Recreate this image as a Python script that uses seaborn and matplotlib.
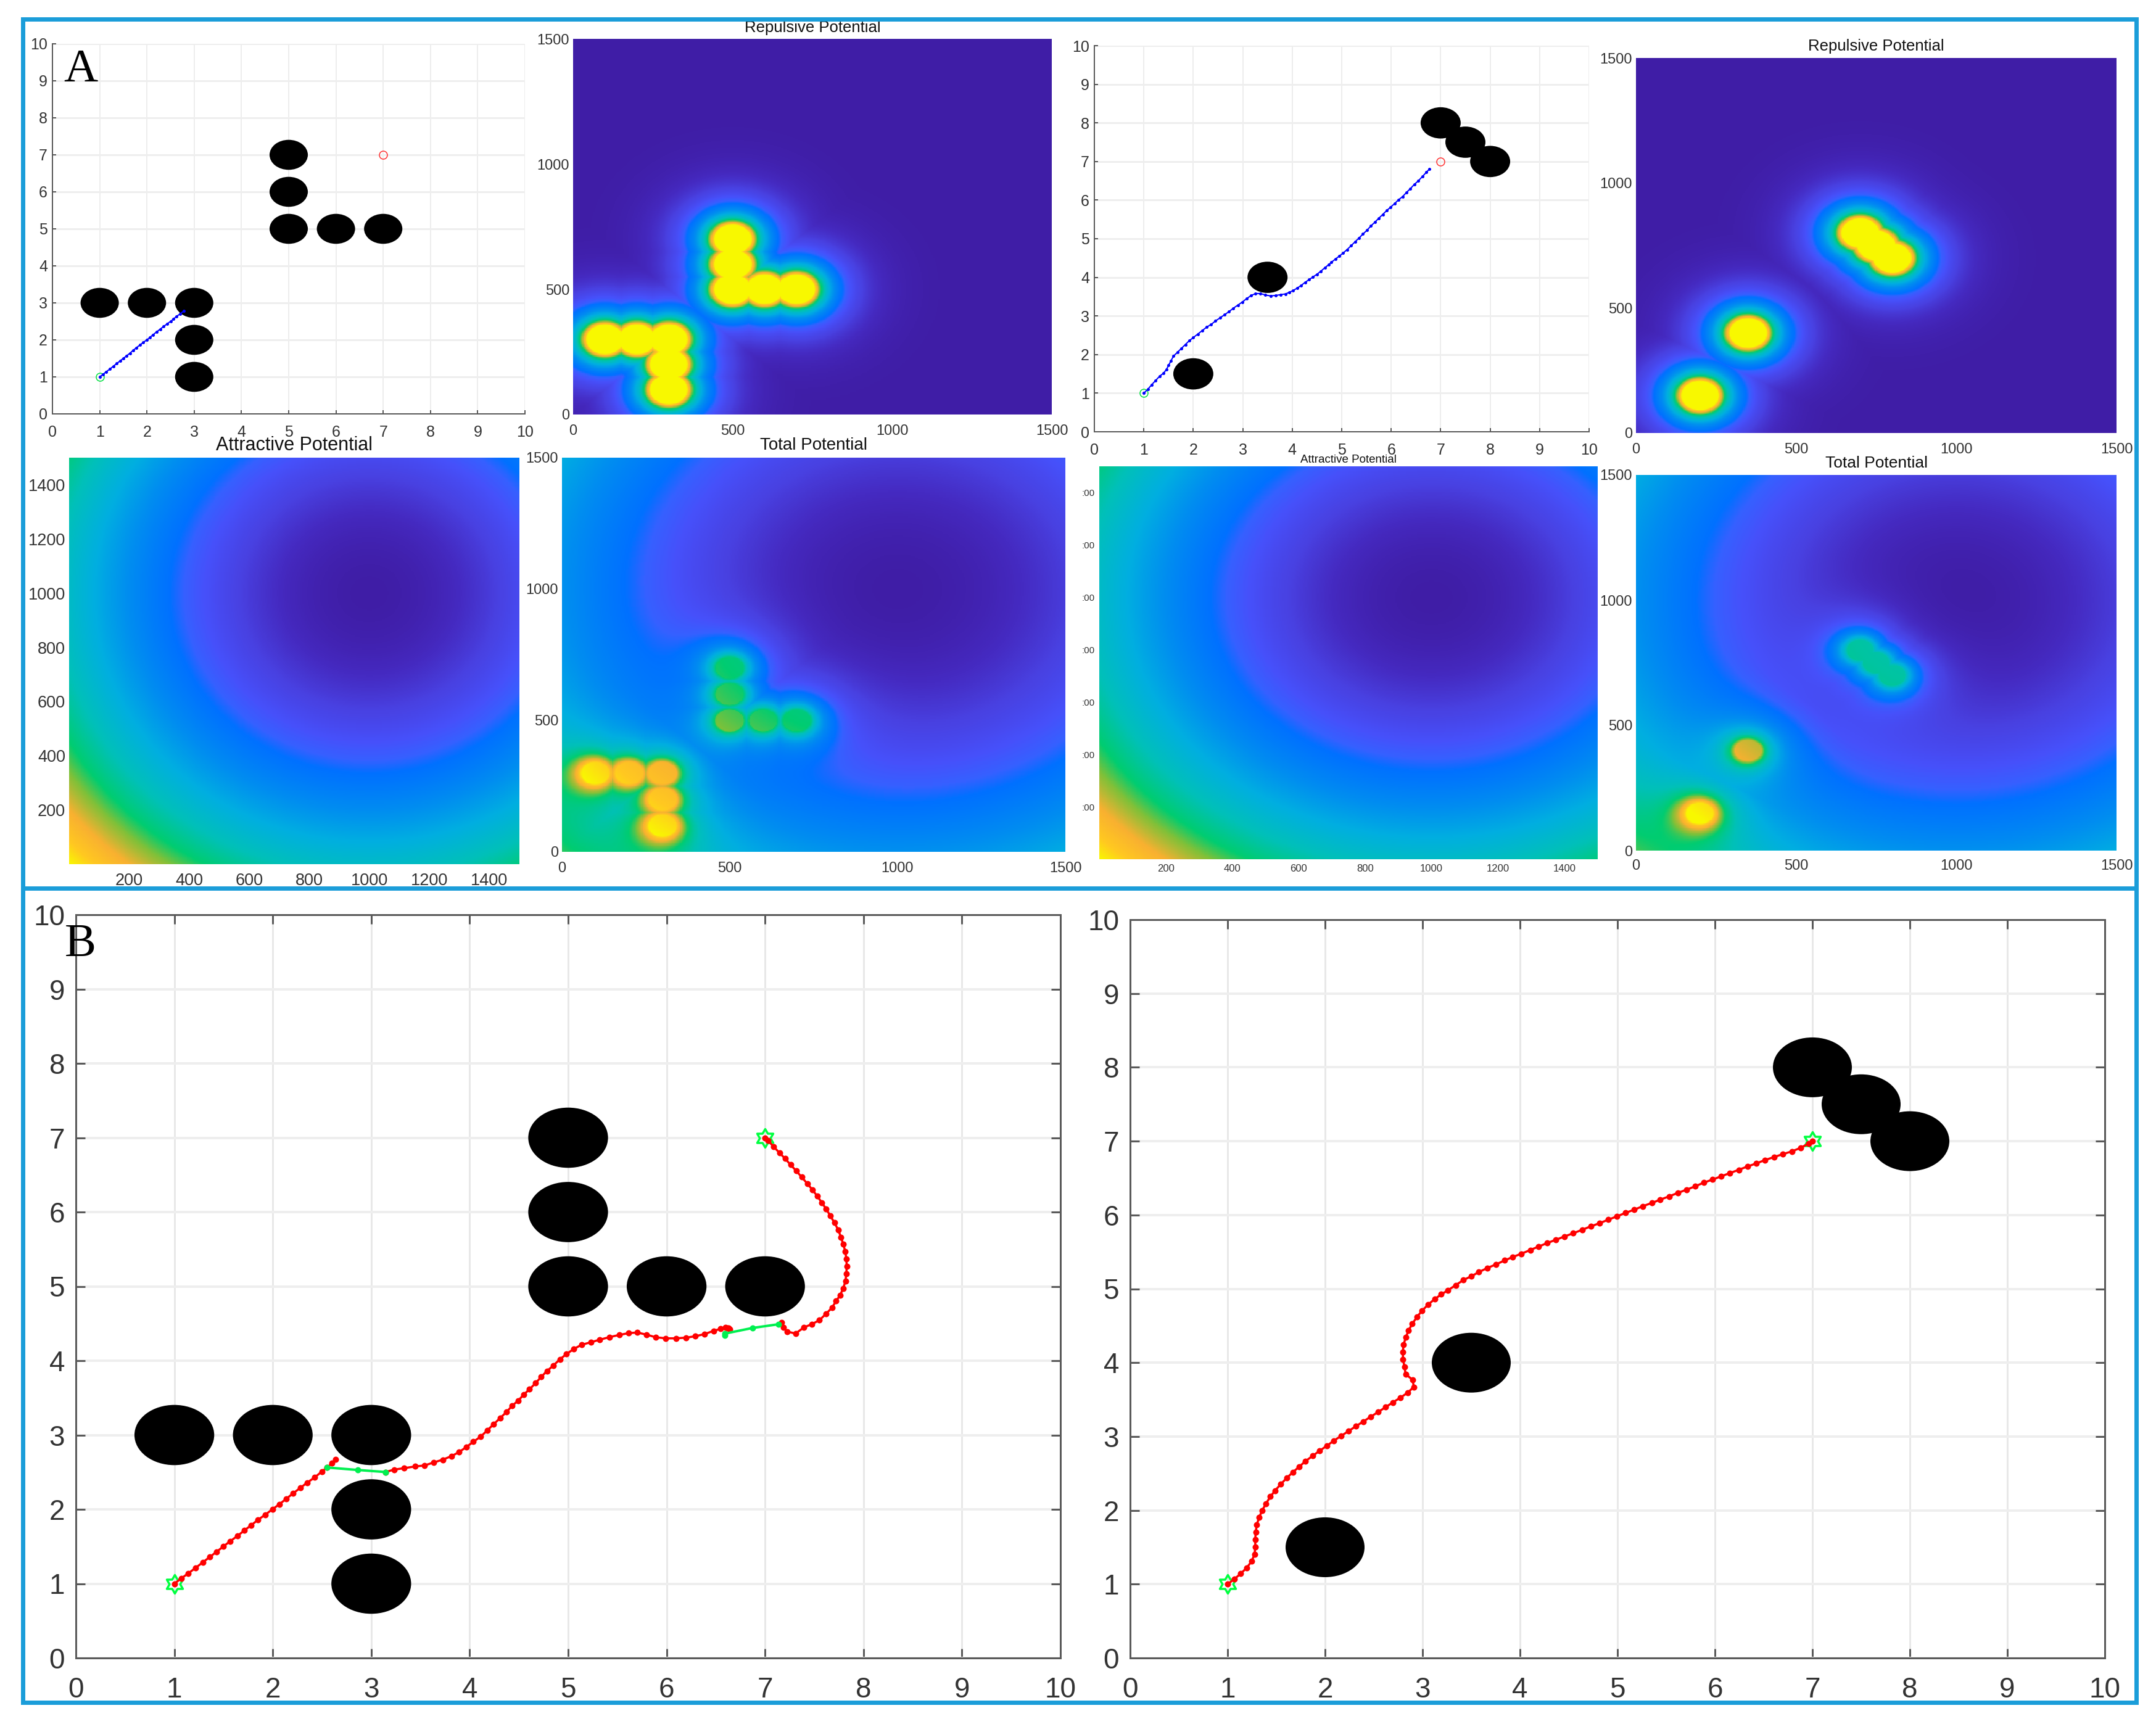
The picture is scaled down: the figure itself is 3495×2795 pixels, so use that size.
import numpy as np
import pandas as pd
import matplotlib
matplotlib.use("Agg")
import matplotlib.pyplot as plt
import seaborn as sns
from matplotlib.colors import LinearSegmentedColormap
from matplotlib.lines import Line2D
from matplotlib.patches import Ellipse
from matplotlib.path import Path

# ---------- data ----------
obst_a_x = [1, 2, 3, 3, 3, 5, 5, 5, 6, 7]
obst_a_y = [3, 3, 3, 2, 1, 5, 6, 7, 5, 5]
obst_b_x = [2, 3.5, 7, 7.5, 8]
obst_b_y = [1.5, 4, 8, 7.5, 7]
obst_diameter = 0.81
start_x, start_y = 1, 1
goal_x, goal_y = 7, 7
field_goal = (1000, 1000)
field_scale = 100

grid_ticks = list(range(0, 11))
field_ticks = [0, 500, 1000, 1500]
attr_ticks = [200, 400, 600, 800, 1000, 1200, 1400]

# short runs in panel A (blue)
a1_x = [1.0, 1.07, 1.14, 1.215, 1.29, 1.36, 1.43, 1.50, 1.57, 1.64, 1.71, 1.78, 1.85, 1.92, 2.0, 2.065, 2.13, 2.20, 2.28, 2.35, 2.425, 2.50, 2.56, 2.62, 2.70, 2.78]
a1_y = [1.0, 1.07, 1.14, 1.21, 1.29, 1.36, 1.43, 1.50, 1.57, 1.64, 1.72, 1.79, 1.86, 1.93, 2.0, 2.07, 2.14, 2.21, 2.29, 2.36, 2.43, 2.50, 2.56, 2.63, 2.70, 2.78]
a2_x = [1, 1.08, 1.16, 1.24, 1.32, 1.40, 1.46, 1.50, 1.55, 1.60, 1.68, 1.76, 1.84, 1.92, 2.0, 2.09, 2.18, 2.27, 2.36, 2.45, 2.54, 2.63, 2.72, 2.81, 2.9, 2.99, 3.08, 3.17, 3.26, 3.36, 3.46, 3.56, 3.66, 3.76, 3.86, 3.94, 4.02, 4.1, 4.18, 4.26, 4.34, 4.42, 4.5, 4.58, 4.66, 4.74, 4.79, 4.87, 4.95, 5.03, 5.11, 5.19, 5.27, 5.35, 5.43, 5.51, 5.59, 5.67, 5.75, 5.83, 5.91, 5.99, 6.07, 6.15, 6.23, 6.31, 6.39, 6.47, 6.55, 6.63, 6.71, 6.77]
a2_y = [1, 1.1, 1.22, 1.33, 1.44, 1.52, 1.62, 1.72, 1.84, 1.96, 2.06, 2.16, 2.26, 2.36, 2.44, 2.53, 2.62, 2.71, 2.78, 2.87, 2.95, 3.03, 3.11, 3.2, 3.28, 3.36, 3.45, 3.53, 3.58, 3.58, 3.54, 3.52, 3.53, 3.55, 3.57, 3.61, 3.66, 3.72, 3.79, 3.87, 3.94, 4.01, 4.08, 4.16, 4.25, 4.33, 4.39, 4.47, 4.55, 4.63, 4.72, 4.82, 4.92, 5.02, 5.12, 5.22, 5.33, 5.43, 5.53, 5.63, 5.73, 5.82, 5.91, 6.01, 6.09, 6.2, 6.3, 6.41, 6.5, 6.61, 6.72, 6.8]

# panel B, left: red runs and green jumps
bl_red1_x = [1, 1.071, 1.142, 1.215, 1.289, 1.358, 1.429, 1.498, 1.567, 1.64, 1.711, 1.78, 1.849, 1.923, 1.996, 2.065, 2.134, 2.203, 2.278, 2.349, 2.425, 2.497, 2.552, 2.6, 2.64]
bl_red1_y = [1, 1.072, 1.139, 1.212, 1.287, 1.357, 1.429, 1.501, 1.571, 1.641, 1.716, 1.786, 1.858, 1.928, 2.0, 2.067, 2.139, 2.212, 2.287, 2.359, 2.429, 2.507, 2.563, 2.62, 2.674]
bl_green1_x = [2.552, 2.861, 3.145]
bl_green1_y = [2.563, 2.53, 2.502]
bl_red2_x = [3.145, 3.233, 3.334, 3.444, 3.54, 3.637, 3.725, 3.813, 3.892, 3.967, 4.037, 4.112, 4.178, 4.243, 4.309, 4.375, 4.432, 4.494, 4.551, 4.608, 4.67, 4.727, 4.784, 4.85, 4.916, 4.982, 5.056, 5.135, 5.232, 5.32, 5.421, 5.518, 5.614, 5.702, 5.795, 5.891, 5.992, 6.097, 6.198, 6.291, 6.383, 6.476, 6.55, 6.616, 6.64, 6.60, 6.63]
bl_red2_y = [2.502, 2.535, 2.554, 2.577, 2.59, 2.632, 2.668, 2.715, 2.77, 2.84, 2.909, 2.979, 3.062, 3.145, 3.228, 3.311, 3.395, 3.464, 3.547, 3.616, 3.7, 3.783, 3.86, 3.935, 4.019, 4.088, 4.157, 4.213, 4.249, 4.282, 4.318, 4.346, 4.371, 4.379, 4.351, 4.315, 4.301, 4.301, 4.31, 4.329, 4.357, 4.401, 4.429, 4.44, 4.42, 4.45, 4.44]
bl_green2_x = [6.594, 6.594, 6.871, 7.134]
bl_green2_y = [4.337, 4.365, 4.44, 4.49]
bl_red3_x = [7.165, 7.187, 7.222, 7.31, 7.394, 7.473, 7.552, 7.618, 7.679, 7.721, 7.761, 7.794, 7.817, 7.825, 7.83, 7.825, 7.815, 7.794, 7.771, 7.742, 7.705, 7.663, 7.622, 7.576, 7.53, 7.48, 7.428, 7.372, 7.318, 7.26, 7.204, 7.146, 7.085, 7.03, 7.0]
bl_red3_y = [4.518, 4.448, 4.393, 4.365, 4.448, 4.49, 4.545, 4.629, 4.712, 4.801, 4.878, 4.975, 5.072, 5.174, 5.271, 5.373, 5.47, 5.566, 5.663, 5.762, 5.856, 5.948, 6.039, 6.127, 6.215, 6.301, 6.384, 6.47, 6.552, 6.635, 6.718, 6.798, 6.881, 6.964, 7.0]

# panel B, right: red run
br_x = [1, 1.07, 1.134, 1.197, 1.246, 1.277, 1.284, 1.284, 1.288, 1.300, 1.324, 1.355, 1.393, 1.439, 1.487, 1.544, 1.605, 1.670, 1.733, 1.800, 1.872, 1.945, 2.017, 2.090, 2.164, 2.242, 2.315, 2.391, 2.468, 2.546, 2.622, 2.695, 2.773, 2.847, 2.910, 2.899, 2.826, 2.815, 2.800, 2.798, 2.805, 2.828, 2.857, 2.895, 2.943, 2.994, 3.057, 3.124, 3.193, 3.26, 3.34, 3.42, 3.50, 3.578, 3.666, 3.756, 3.843, 3.927, 4.015, 4.105, 4.192, 4.279, 4.369, 4.456, 4.547, 4.640, 4.730, 4.817, 4.904, 4.994, 5.081, 5.172, 5.259, 5.352, 5.439, 5.529, 5.619, 5.709, 5.797, 5.884, 5.974, 6.064, 6.154, 6.244, 6.334, 6.427, 6.515, 6.605, 6.698, 6.788, 6.878, 6.96, 7.0]
br_y = [1, 1.07, 1.142, 1.223, 1.309, 1.407, 1.505, 1.608, 1.705, 1.808, 1.906, 1.998, 2.090, 2.185, 2.268, 2.352, 2.436, 2.517, 2.589, 2.667, 2.737, 2.807, 2.873, 2.943, 3.007, 3.074, 3.138, 3.202, 3.267, 3.333, 3.398, 3.462, 3.526, 3.593, 3.671, 3.768, 3.844, 3.944, 4.044, 4.145, 4.242, 4.343, 4.437, 4.527, 4.619, 4.702, 4.786, 4.861, 4.925, 4.98, 5.05, 5.12, 5.17, 5.227, 5.283, 5.332, 5.385, 5.432, 5.476, 5.526, 5.573, 5.620, 5.665, 5.709, 5.753, 5.801, 5.848, 5.889, 5.936, 5.981, 6.028, 6.072, 6.119, 6.163, 6.208, 6.252, 6.299, 6.343, 6.388, 6.438, 6.479, 6.524, 6.568, 6.612, 6.657, 6.70, 6.745, 6.784, 6.825, 6.861, 6.909, 6.967, 7.0]

# ---------- styling ----------
W, H = 3495, 2795
PX = 0.72  # points per pixel at dpi=100

sns.set_theme(style="white", rc={"axes.facecolor": "white", "figure.facecolor": "white"})
plt.rcParams["font.family"] = ["Liberation Sans", "DejaVu Sans"]

parula = LinearSegmentedColormap.from_list("parula_sat", [
    (0.00, "#3F1DA6"), (0.04, "#4428BE"), (0.09, "#4840E0"), (0.15, "#4650FA"), (0.19, "#3560FF"),
    (0.22, "#0070FF"), (0.32, "#008CF0"), (0.42, "#00AEE0"), (0.54, "#00C0B8"),
    (0.65, "#00CC70"), (0.72, "#80C038"), (0.82, "#F8B030"), (0.92, "#FFC820"), (1.00, "#F8F800")], N=512)

fig = plt.figure(figsize=(W / 100, H / 100), dpi=100, facecolor="white")


def box(x0, y0, x1, y1):
    return fig.add_axes([x0 / W, 1 - y1 / H, (x1 - x0) / W, (y1 - y0) / H])


# ---------- potential fields built from the obstacle lists ----------
STEP = 4
edges = np.arange(STEP / 2, 1500, STEP)
GX, GY = np.meshgrid(edges, edges)


def attractive():
    return ((GX - field_goal[0]) ** 2 + (GY - field_goal[1]) ** 2) / 2e6


def repulsive(ox, oy):
    dist = np.min([np.hypot(GX - a * field_scale, GY - b * field_scale)
                   for a, b in zip(ox, oy)], axis=0)
    rho = np.clip(dist - obst_diameter / 2 * field_scale, 0, None) / 100 + 1
    u = (1 / rho - 1 / 6) ** 2
    u[rho > 6] = 0
    return u


def field(rect, values, vmax, ticks_x, ticks_y, size, title=None, title_y=None,
          title_size=18.5, ylabels=None, pad_y=6, pad_x=14, xsize=None):
    ax = box(*rect)
    sns.heatmap(pd.DataFrame(values), ax=ax, cmap=parula, vmin=0, vmax=vmax, cbar=False,
                xticklabels=False, yticklabels=False)
    ax.set_xlim(0, len(edges))
    ax.set_ylim(0, len(edges))
    ax.set_xticks([t / STEP for t in ticks_x])
    ax.set_xticklabels([str(t) for t in ticks_x], fontsize=xsize or size, color="#333333")
    ax.set_yticks([t / STEP for t in ticks_y])
    ax.set_yticklabels(ylabels or [str(t) for t in ticks_y], fontsize=size, color="#333333",
                       rotation=0)
    ax.tick_params(length=0, pad=pad_x * PX, axis="x")
    ax.tick_params(length=0, pad=pad_y * PX, axis="y")
    ax.set_xlabel("")
    ax.set_ylabel("")
    if title:
        fig.text((rect[0] + rect[2]) / 2 / W, 1 - title_y / H, title, ha="center", va="center",
                 fontsize=title_size, color="#111111")
    return ax


hexagram = Path.unit_regular_star(6, innerCircle=0.577)


def paths_axes(rect, ox, oy, major, minor, size, spines, tick_len, pad_y, pad_x, spine_lw):
    ax = box(*rect)
    ax.set_xlim(0, 10)
    ax.set_ylim(0, 10)
    ax.set_xticks(grid_ticks)
    ax.set_yticks(grid_ticks)
    ax.set_xticklabels([str(t) for t in grid_ticks], fontsize=size, color="#333333")
    ax.set_yticklabels([str(t) for t in grid_ticks], fontsize=size, color="#333333")
    ax.grid(axis="y", color="#EEEEEE", lw=major * PX)
    ax.grid(axis="x", color="#E8E8E8", lw=minor * PX)
    ax.set_axisbelow(True)
    for name, sp in ax.spines.items():
        sp.set_visible(name in spines)
        sp.set_color("#5A5A5A")
        sp.set_linewidth(spine_lw * PX)
    ax.tick_params(axis="both", direction="in", length=tick_len * PX, width=spine_lw * PX,
                   color="#5A5A5A", bottom=True, left=True,
                   top="top" in spines, right="right" in spines)
    ax.tick_params(axis="x", pad=pad_x * PX)
    ax.tick_params(axis="y", pad=pad_y * PX)
    for a, b in zip(ox, oy):
        ax.add_patch(Ellipse((a, b), obst_diameter, obst_diameter, color="black", lw=0, zorder=2))
    return ax


def run(ax, x, y, color, lw, ms, z=4):
    sns.lineplot(x=x, y=y, sort=False, estimator=None, color=color, linewidth=lw * PX,
                 marker="o", markersize=ms * PX, markeredgewidth=0, ax=ax, legend=False, zorder=z)
    ax.set_xlim(0, 10)
    ax.set_ylim(0, 10)
    ax.set_xlabel("")
    ax.set_ylabel("")


# ---------- panel A ----------
A_SPINES = ("left", "bottom")
ax = paths_axes((85, 71, 851, 671), obst_a_x, obst_a_y, 3, 1.5, 18, A_SPINES, 6, 8, 18, 2)
run(ax, a1_x, a1_y, "#0000FF", 2, 5)
ax.plot([start_x], [start_y], "o", mfc="none", mec="#00E040", ms=13 * PX, mew=1.5 * PX, zorder=3)
ax.plot([goal_x], [goal_y], "o", mfc="none", mec="#FF3030", ms=13 * PX, mew=1.5 * PX, zorder=3)

ax = paths_axes((1774, 74, 2576, 700), obst_b_x, obst_b_y, 3, 1.5, 18, A_SPINES, 6, 8, 18, 2)
run(ax, a2_x, a2_y, "#0000FF", 2, 5)
ax.plot([start_x], [start_y], "o", mfc="none", mec="#00E040", ms=13 * PX, mew=1.5 * PX, zorder=3)
ax.plot([goal_x], [goal_y], "o", mfc="none", mec="#FF3030", ms=13 * PX, mew=1.5 * PX, zorder=3)

rep_vmax = 0.48
rep_gain = 1.15
total_vmax = 1.5

field((929, 63, 1705, 672), repulsive(obst_a_x, obst_a_y), rep_vmax, field_ticks, field_ticks, 17,
      "Repulsive Potential", 45, pad_x=16)
field((2652, 94, 3431, 702), repulsive(obst_b_x, obst_b_y), rep_vmax, field_ticks, field_ticks, 17,
      "Repulsive Potential", 75, pad_x=16)
field((112, 742, 842, 1401), attractive(), 1.0, attr_ticks, attr_ticks, 19.5,
      "Attractive Potential", 722, title_size=22, pad_x=14)
field((911, 742, 1727, 1381), attractive() + rep_gain * repulsive(obst_a_x, obst_a_y), total_vmax,
      field_ticks, field_ticks, 17, "Total Potential", 722, title_size=20, pad_x=16)
field((1782, 756, 2590, 1393), attractive(), 1.0, attr_ticks, attr_ticks, 11,
      "Attractive Potential", 746, title_size=13.5, ylabels=[":00"] * 7, pad_y=7, pad_x=8, xsize=12)
field((2652, 770, 3431, 1379), attractive() + rep_gain * repulsive(obst_b_x, obst_b_y), total_vmax,
      field_ticks, field_ticks, 17, "Total Potential", 751, title_size=19, pad_x=14)

# ---------- panel B ----------
B_SPINES = ("left", "bottom", "top", "right")
ax = paths_axes((123, 1483, 1719, 2688), obst_a_x, obst_a_y, 4, 3, 33, B_SPINES, 15, 18, 30, 3)
ax.plot([start_x, goal_x], [start_y, goal_y], ls="none", marker=hexagram, mfc="none", mec="#00FF40",
        ms=30 * PX, mew=3.5 * PX, zorder=3)
run(ax, bl_red1_x, bl_red1_y, "#FF0000", 3.5, 10)
run(ax, bl_red2_x, bl_red2_y, "#FF0000", 3.5, 10)
run(ax, bl_red3_x, bl_red3_y, "#FF0000", 3.5, 10)
run(ax, bl_green1_x, bl_green1_y, "#00F050", 4, 10, z=5)
run(ax, bl_green2_x, bl_green2_y, "#00F050", 4, 10, z=5)

ax = paths_axes((1832, 1491, 3412, 2688), obst_b_x, obst_b_y, 4, 3, 33, B_SPINES, 15, 18, 30, 3)
ax.plot([start_x, goal_x], [start_y, goal_y], ls="none", marker=hexagram, mfc="none", mec="#00FF40",
        ms=30 * PX, mew=3.5 * PX, zorder=3)
run(ax, br_x, br_y, "#FF0000", 3.5, 10)

# ---------- labels and frame ----------
fig.text(130.5 / W, 1 - 114 / H, "A", family="Liberation Serif", fontsize=55, color="black",
         ha="center", va="center", zorder=20)
fig.text(130 / W, 1 - 1532 / H, "B", family="Liberation Serif", fontsize=55, color="black",
         ha="center", va="center", zorder=20)

FRAME = "#1B9DD9"
L, R, T, M, B = 36.5, 3463, 31, 1439.5, 2760
for xs, ys in [((L, R), (T, T)), ((L, R), (M, M)), ((L, R), (B, B)), ((L, L), (T, B)), ((R, R), (T, B))]:
    fig.add_artist(Line2D([x / W for x in xs], [1 - y / H for y in ys], color=FRAME, lw=7 * PX,
                          solid_capstyle="projecting", zorder=30))

fig.savefig("out.png", dpi=100, facecolor="white")
